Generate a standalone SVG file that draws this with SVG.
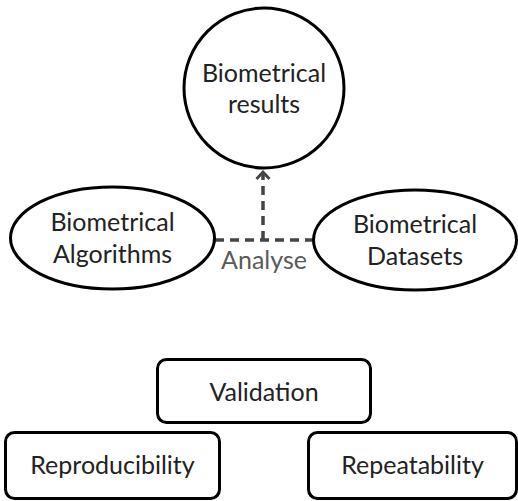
<svg xmlns="http://www.w3.org/2000/svg" width="518" height="501" viewBox="0 0 518 501">
  <style>
    .shape { fill: #ffffff; stroke: #000000; stroke-width: 3; }
    .label { font-family: Lato, "Open Sans", "Liberation Sans", sans-serif; font-size: 25px; fill: #222222; text-anchor: middle; }
    .edge { fill: none; stroke: #444444; stroke-width: 3.5; stroke-dasharray: 9 6; }
    .edge-label { font-family: Lato, "Open Sans", "Liberation Sans", sans-serif; font-size: 25px; fill: #5a5a5a; text-anchor: middle; }
  </style>
  <defs>
    <marker id="chevron" viewBox="0 0 12 16" refX="10" refY="8" markerWidth="12" markerHeight="16" markerUnits="userSpaceOnUse" orient="auto">
      <path d="M3,1.5 L10,8 L3,14.5" fill="none" stroke="#444444" stroke-width="2.8"/>
    </marker>
  </defs>

  <g id="connectors">
    <path class="edge" d="M215,240 H313"/>
    <path class="edge" d="M263,240 V172" marker-end="url(#chevron)"/>
    <text class="edge-label" x="264" y="269">Analyse</text>
  </g>

  <g id="results">
    <circle class="shape" cx="264" cy="88" r="80"/>
    <text class="label" x="264" y="82">Biometrical</text>
    <text class="label" x="264" y="113">results</text>
  </g>

  <g id="algorithms">
    <ellipse class="shape" cx="112.5" cy="238" rx="102" ry="51"/>
    <text class="label" x="112.5" y="231">Biometrical</text>
    <text class="label" x="112.5" y="263">Algorithms</text>
  </g>

  <g id="datasets">
    <ellipse class="shape" cx="415" cy="240" rx="101.5" ry="50"/>
    <text class="label" x="415" y="233">Biometrical</text>
    <text class="label" x="415" y="265">Datasets</text>
  </g>

  <g id="validation">
    <rect class="shape" x="157.5" y="359.5" width="213" height="63" rx="9"/>
    <text class="label" x="264" y="401">Validation</text>
  </g>

  <g id="reproducibility">
    <rect class="shape" x="5.5" y="432.5" width="214" height="66" rx="9"/>
    <text class="label" x="112.5" y="474">Reproducibility</text>
  </g>

  <g id="repeatability">
    <rect class="shape" x="308.5" y="432.5" width="208" height="66" rx="9"/>
    <text class="label" x="412.5" y="474">Repeatability</text>
  </g>
</svg>
